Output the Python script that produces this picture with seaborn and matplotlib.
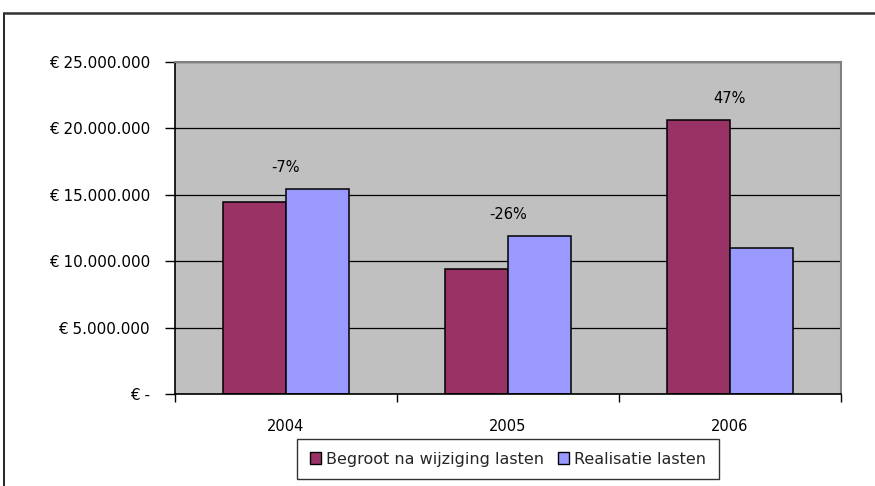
import matplotlib
matplotlib.use("Agg")
import matplotlib.pyplot as plt
import matplotlib.ticker as mticker
from matplotlib.lines import Line2D
from matplotlib.patches import Patch
import seaborn as sns
import pandas as pd

# Budget after amendment vs realised expenses, per year
years = ["2004", "2005", "2006"]
begroot = [14_480_000, 9_450_000, 20_630_000]
realisatie = [15_440_000, 11_900_000, 10_970_000]
series_names = ["Begroot na wijziging lasten", "Realisatie lasten"]
colors = ["#993366", "#9999FF"]
y_ticks = [0, 5_000_000, 10_000_000, 15_000_000, 20_000_000, 25_000_000]

df = pd.DataFrame({
    "jaar": years * 2,
    "bedrag": begroot + realisatie,
    "reeks": [series_names[0]] * 3 + [series_names[1]] * 3,
})

sns.set_theme(style="white")
plt.rcParams["font.family"] = ["DejaVu Sans"]

fig = plt.figure(figsize=(8.75, 4.86), dpi=100)
ax = fig.add_axes([0.2, 0.1893, 0.7611, 0.6831])
ax.set_facecolor("#C0C0C0")

sns.barplot(data=df, x="jaar", y="bedrag", hue="reeks", order=years,
            hue_order=series_names, palette=colors, width=0.571, gap=0,
            edgecolor="black", linewidth=1.1, saturation=1, ax=ax,
            legend=False, err_kws={"linewidth": 0})

ax.set_ylim(0, 25_000_000)
ax.set_xlim(-0.5, 2.5)
ax.set_yticks(y_ticks)
ax.yaxis.set_major_formatter(mticker.FuncFormatter(
    lambda v, p: "€ -" if v == 0 else "€ " + f"{int(v):,}".replace(",", ".")))
ax.grid(axis="y", color="black", linewidth=0.9)
ax.set_axisbelow(True)
ax.set_xlabel("")
ax.set_ylabel("")

# Category ticks sit between the groups
ax.set_xticks([-0.5, 0.5, 1.5, 2.5], minor=True)
ax.tick_params(axis="x", which="major", length=0, pad=18, labelsize=10.5, colors="black")
ax.tick_params(axis="x", which="minor", length=6, width=1, color="black", direction="out", bottom=True)
ax.tick_params(axis="y", which="major", length=7, width=1, color="black", direction="out",
               left=True, pad=11, labelsize=11, labelcolor="black")

for side in ["left", "bottom"]:
    ax.spines[side].set_color("black")
    ax.spines[side].set_linewidth(1.2)
for side in ["top", "right"]:
    ax.spines[side].set_visible(True)
    ax.spines[side].set_color("#808080")
    ax.spines[side].set_linewidth(1.5)

# Relative difference between budget and realisation
for i, (b, r) in enumerate(zip(begroot, realisatie)):
    pct = round((b - r) / b * 100)
    ax.annotate(f"{pct}%", xy=(i, max(b, r)), xytext=(0, 10), textcoords="offset points",
                ha="center", va="bottom", fontsize=10.5, color="black")

handles = [Patch(facecolor=c, edgecolor="black", linewidth=1) for c in colors]
leg = ax.legend(handles, series_names, loc="upper center", bbox_to_anchor=(0.5, -0.135),
                ncol=2, frameon=True, fancybox=False, fontsize=11.5,
                handlelength=0.7, handleheight=0.7, handletextpad=0.3,
                columnspacing=0.9, borderpad=0.8, borderaxespad=0)
leg.get_frame().set_edgecolor("black")
leg.get_frame().set_linewidth(1)

# Outer chart frame
fig.add_artist(Line2D([4 / 875, 4 / 875], [0, 1 - 13 / 486], transform=fig.transFigure,
                      color="black", linewidth=1.2))
fig.add_artist(Line2D([4 / 875, 1], [1 - 13 / 486, 1 - 13 / 486], transform=fig.transFigure,
                      color="#333333", linewidth=1.8))

fig.savefig("out.png", dpi=100, facecolor="white")
